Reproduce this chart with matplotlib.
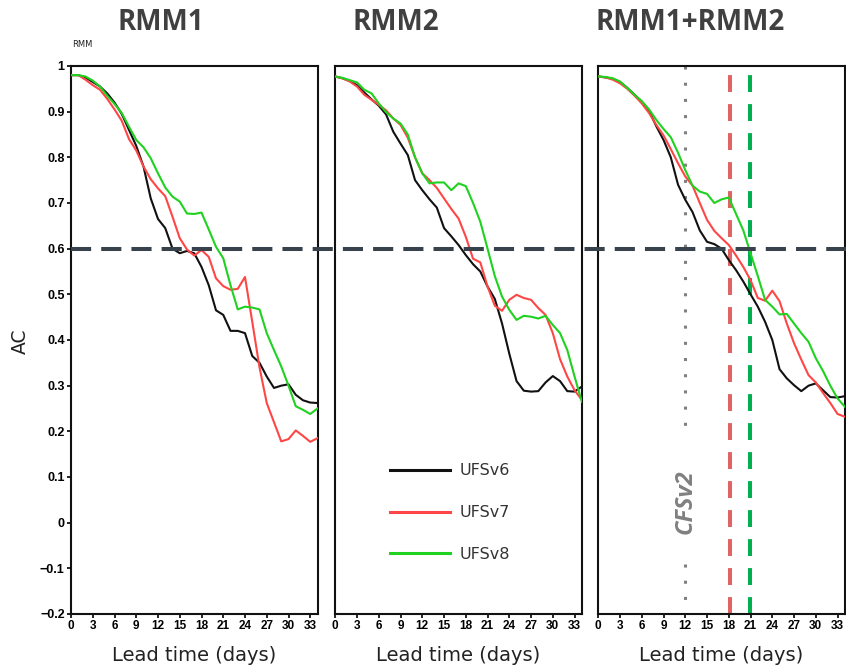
import numpy as np
import matplotlib
matplotlib.use("Agg")
import matplotlib.pyplot as plt
import matplotlib.transforms as mtransforms
from matplotlib.lines import Line2D

# lead time in days
Lead_Days = list(range(35))

# RMM1 anomaly correlation
RMM1_UFSv6 = [0.98, 0.98, 0.975, 0.965, 0.955, 0.94, 0.92, 0.895, 0.86, 0.825, 0.78, 0.71, 0.665, 0.645, 0.60,
              0.59, 0.595, 0.59, 0.56, 0.52, 0.465, 0.455, 0.42, 0.42, 0.415, 0.365, 0.35, 0.32, 0.295, 0.30,
              0.303, 0.28, 0.268, 0.263, 0.262]
RMM1_UFSv7 = [0.98, 0.98, 0.97, 0.958, 0.948, 0.928, 0.905, 0.88, 0.84, 0.815, 0.78, 0.752, 0.732, 0.715, 0.67,
              0.623, 0.598, 0.585, 0.597, 0.582, 0.535, 0.518, 0.51, 0.512, 0.538, 0.44, 0.34, 0.262, 0.22, 0.178,
              0.183, 0.202, 0.19, 0.177, 0.185]
RMM1_UFSv8 = [0.98, 0.98, 0.977, 0.968, 0.955, 0.935, 0.917, 0.897, 0.867, 0.838, 0.822, 0.798, 0.765, 0.734, 0.714,
              0.703, 0.677, 0.676, 0.679, 0.642, 0.604, 0.579, 0.52, 0.467, 0.473, 0.471, 0.467, 0.415, 0.378, 0.342,
              0.30, 0.255, 0.247, 0.238, 0.25]

# RMM2 anomaly correlation
RMM2_UFSv6 = [0.977, 0.973, 0.967, 0.958, 0.942, 0.927, 0.913, 0.894, 0.856, 0.83, 0.805, 0.75, 0.728, 0.708, 0.69,
              0.645, 0.627, 0.608, 0.586, 0.566, 0.55, 0.517, 0.49, 0.436, 0.37, 0.31, 0.289, 0.287, 0.288, 0.307,
              0.321, 0.31, 0.288, 0.287, 0.298]
RMM2_UFSv7 = [0.977, 0.973, 0.966, 0.955, 0.937, 0.926, 0.915, 0.903, 0.885, 0.871, 0.843, 0.80, 0.765, 0.75, 0.733,
              0.71, 0.687, 0.666, 0.626, 0.578, 0.57, 0.517, 0.475, 0.464, 0.488, 0.499, 0.492, 0.488, 0.47, 0.455,
              0.415, 0.358, 0.32, 0.29, 0.269]
RMM2_UFSv8 = [0.977, 0.974, 0.969, 0.964, 0.948, 0.94, 0.918, 0.899, 0.885, 0.874, 0.85, 0.80, 0.765, 0.743, 0.745,
              0.745, 0.728, 0.743, 0.737, 0.70, 0.659, 0.60, 0.54, 0.495, 0.466, 0.444, 0.453, 0.451, 0.447, 0.453,
              0.433, 0.415, 0.378, 0.32, 0.265]

# RMM1+RMM2 (bivariate) anomaly correlation
Both_UFSv6 = [0.977, 0.975, 0.972, 0.965, 0.952, 0.937, 0.922, 0.902, 0.868, 0.838, 0.80, 0.74, 0.707, 0.68, 0.64,
              0.615, 0.61, 0.60, 0.575, 0.553, 0.528, 0.50, 0.473, 0.44, 0.40, 0.336, 0.316, 0.301, 0.288, 0.30,
              0.305, 0.29, 0.275, 0.274, 0.277]
Both_UFSv7 = [0.977, 0.975, 0.97, 0.962, 0.95, 0.935, 0.918, 0.897, 0.871, 0.848, 0.818, 0.787, 0.758, 0.738, 0.70,
              0.663, 0.639, 0.623, 0.608, 0.585, 0.56, 0.531, 0.492, 0.486, 0.508, 0.485, 0.436, 0.393, 0.357, 0.323,
              0.307, 0.284, 0.262, 0.238, 0.232]
Both_UFSv8 = [0.977, 0.976, 0.973, 0.966, 0.952, 0.937, 0.923, 0.905, 0.882, 0.862, 0.844, 0.81, 0.772, 0.738, 0.725,
              0.72, 0.70, 0.708, 0.712, 0.676, 0.64, 0.59, 0.54, 0.488, 0.473, 0.456, 0.457, 0.436, 0.415, 0.396,
              0.36, 0.332, 0.30, 0.272, 0.254]

Panel_Titles = ["RMM1", "RMM2", "RMM1+RMM2"]
Model_Names = ["UFSv6", "UFSv7", "UFSv8"]
Model_Colors = ["#111111", "#ff4646", "#1fd21f"]

Skill_Threshold = 0.6
CFSv2_Day = 12
UFSv7_Day = 18.2
UFSv8_Day = 20.9

Y_Ticks = [1, 0.9, 0.8, 0.7, 0.6, 0.5, 0.4, 0.3, 0.2, 0.1, 0, -0.1, -0.2]
Y_Tick_Labels = ["1", "0.9", "0.8", "0.7", "0.6", "0.5", "0.4", "0.3", "0.2", "0.1", "0", "\u22120.1", "\u22120.2"]
X_Ticks = list(range(0, 34, 3))

All_Panels = [[RMM1_UFSv6, RMM1_UFSv7, RMM1_UFSv8],
              [RMM2_UFSv6, RMM2_UFSv7, RMM2_UFSv8],
              [Both_UFSv6, Both_UFSv7, Both_UFSv8]]

W, H = 846, 666
fig = plt.figure(figsize=(W / 100, H / 100), dpi=100, facecolor="white")

Panel_Lefts = [71, 335.3, 598.3]
Panel_Width = 246.5
Panel_Top, Panel_Bottom = 66, 614
Title_X = [161, 396, 690]

Axes_List = []
for i, Left in enumerate(Panel_Lefts):
    ax = fig.add_axes([Left / W, 1 - Panel_Bottom / H, Panel_Width / W, (Panel_Bottom - Panel_Top) / H])
    for Series, Color, Name in zip(All_Panels[i], Model_Colors, Model_Names):
        ax.plot(Lead_Days, Series, color=Color, linewidth=1.5, label=Name, zorder=3)
    ax.set_xlim(0, 34)
    ax.set_ylim(-0.2, 1)
    ax.set_xticks(X_Ticks)
    ax.set_xticklabels([str(t) for t in X_Ticks], fontsize=8.5, fontweight="bold", family="Liberation Sans")
    ax.tick_params(axis="x", direction="out", length=3, width=1.2, pad=1.5)
    if i == 0:
        ax.set_yticks(Y_Ticks)
        ax.set_yticklabels(Y_Tick_Labels, fontsize=9, fontweight="bold", family="Liberation Sans")
        ax.tick_params(axis="y", direction="out", length=3, width=1.2, pad=1.5)
    else:
        ax.set_yticks([])
    for spine in ax.spines.values():
        spine.set_linewidth(1.5)
        spine.set_color("#111111")
    ax.text(0.5, -0.086, "Lead time (days)", transform=ax.transAxes, ha="center", va="baseline",
            fontsize=14, color="#222222")
    fig.text(Title_X[i] / W, 1 - 30 / H, Panel_Titles[i], ha="center", va="baseline",
             fontsize=20, fontweight="bold", color="#404040", family=["Open Sans", "DejaVu Sans"])
    Axes_List.append(ax)

ax1, ax2, ax3 = Axes_List

fig.text(20 / W, 1 - 341 / H, "AC", rotation=90, ha="center", va="center", fontsize=13.5, color="#222222")
fig.text(72 / W, 1 - 47 / H, "RMM", ha="left", va="baseline", fontsize=6, color="#222222")

# skill threshold across all panels
Threshold_Transform = mtransforms.blended_transform_factory(fig.transFigure, ax1.transData)
fig.add_artist(Line2D([Panel_Lefts[0] / W, 1], [Skill_Threshold, Skill_Threshold], transform=Threshold_Transform,
                      color="#38424c", linewidth=2.9, linestyle=(0, (5, 2.5)), zorder=10))

# legend in middle panel
legend = ax2.legend(loc="center", bbox_to_anchor=(0.466, 0.185), frameon=False, fontsize=11.5,
                    handlelength=3.75, handletextpad=0.62, labelspacing=1.68, borderpad=0)
for line in legend.get_lines():
    line.set_linewidth(2.2)
plt.setp(legend.get_texts(), color="#333333")

# lead times at which skill drops below 0.6
ax3.plot([CFSv2_Day, CFSv2_Day], [1, 0.19], color="#808080", linewidth=2.2, linestyle=(0, (1, 4.3)), zorder=2)
ax3.plot([CFSv2_Day, CFSv2_Day], [-0.09, -0.2], color="#808080", linewidth=2.2, linestyle=(0, (1, 4.3)), zorder=2)
ax3.axvline(UFSv7_Day, color="#e06464", linewidth=2.9, linestyle=(0, (4.2, 3)), zorder=2)
ax3.axvline(UFSv8_Day, color="#00b050", linewidth=2.9, linestyle=(0, (4.2, 3)), zorder=2)
ax3.text(CFSv2_Day + 0.1, 0.045, "CFSv2", rotation=90, ha="center", va="center", fontsize=17,
         fontweight="bold", fontstyle="italic", color="#808080", family=["Open Sans", "DejaVu Sans"])

plt.savefig("out.png", dpi=100)
